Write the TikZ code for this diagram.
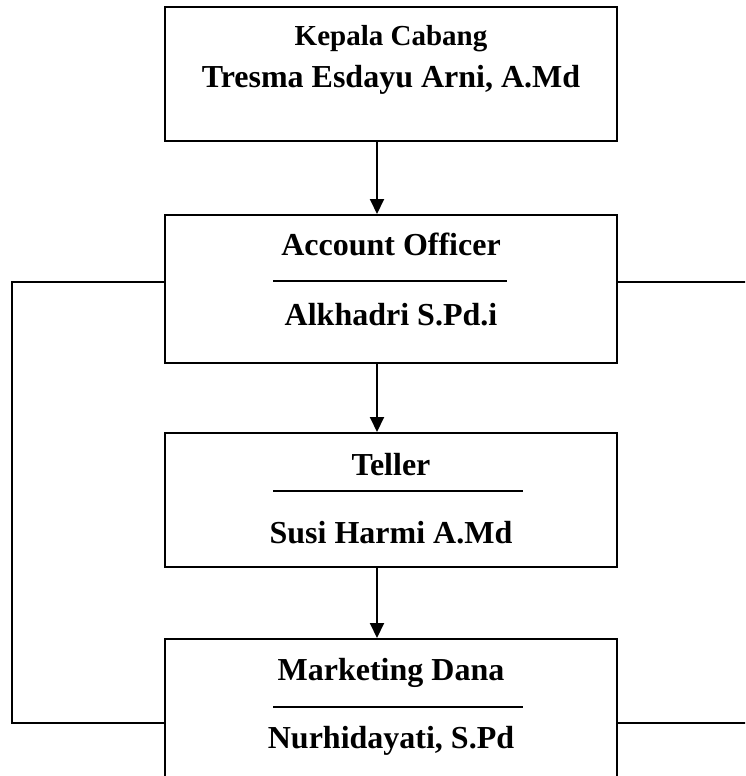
\documentclass[tikz,border=0pt]{standalone}
\usepackage{fontspec}
\setmainfont{Liberation Serif}
\usetikzlibrary{arrows.meta}

\tikzset{
    orgbox/.style={draw, line width=1pt, minimum width=226pt, inner sep=0pt},
    jabatan/.style={anchor=base, inner sep=0pt, font=\bfseries\fontsize{16}{19}\selectfont},
    panah/.style={-{Triangle[length=7.5pt,width=7pt]}, line width=1pt}
}

\begin{document}
\begin{tikzpicture}[x=0.5pt, y=-0.5pt]
        \clip (0, 0) rectangle (745, 776);

        % Draw the boxes
        \node[orgbox, minimum height=67pt] (kepala) at (391, 74) {};
        \node[orgbox, minimum height=74pt] (ao) at (391, 289) {};
        \node[orgbox, minimum height=67pt] (teller) at (391, 500) {};
        \node[orgbox, minimum height=84pt] (marketing) at (391, 723) {};

        % Kepala Cabang
        \node[jabatan, font=\bfseries\fontsize{14.5}{17}\selectfont] (kepalaT) at (391, 45) {Kepala Cabang};
        \node[jabatan] (kepalaN) at (391, 87) {Tresma Esdayu Arni, A.Md};

        % Account Officer
        \node[jabatan] (aoT) at (391, 255) {Account Officer};
        \draw[line width=1pt] (273, 281) -- (507, 281);
        \node[jabatan] (aoN) at (391, 325) {Alkhadri S.Pd.i};

        % Teller
        \node[jabatan] (tellerT) at (391, 475) {Teller};
        \draw[line width=1pt] (273, 491) -- (523, 491);
        \node[jabatan] (tellerN) at (391, 543) {Susi Harmi A.Md};

        % Marketing Dana
        \node[jabatan] (marketingT) at (391, 680) {Marketing Dana};
        \draw[line width=1pt] (273, 707) -- (523, 707);
        \node[jabatan] (marketingN) at (391, 748) {Nurhidayati, S.Pd};

        % Arrows between the boxes
        \draw[panah] ([xshift=-7pt]kepala.south) -- ([xshift=-7pt]ao.north);
        \draw[panah] ([xshift=-7pt]ao.south) -- ([xshift=-7pt]teller.north);
        \draw[panah] ([xshift=-7pt]teller.south) -- ([xshift=-7pt]marketing.north);

        % Side lines
        \draw[line width=1pt] ([yshift=3.5pt]ao.west) -- ++(-152, 0) |- (marketing.west);
        \draw[line width=1pt] ([yshift=3.5pt]ao.east) -- ++(140, 0);
        \draw[line width=1pt] (marketing.east) -- ++(140, 0);
    \end{tikzpicture}
\end{document}
